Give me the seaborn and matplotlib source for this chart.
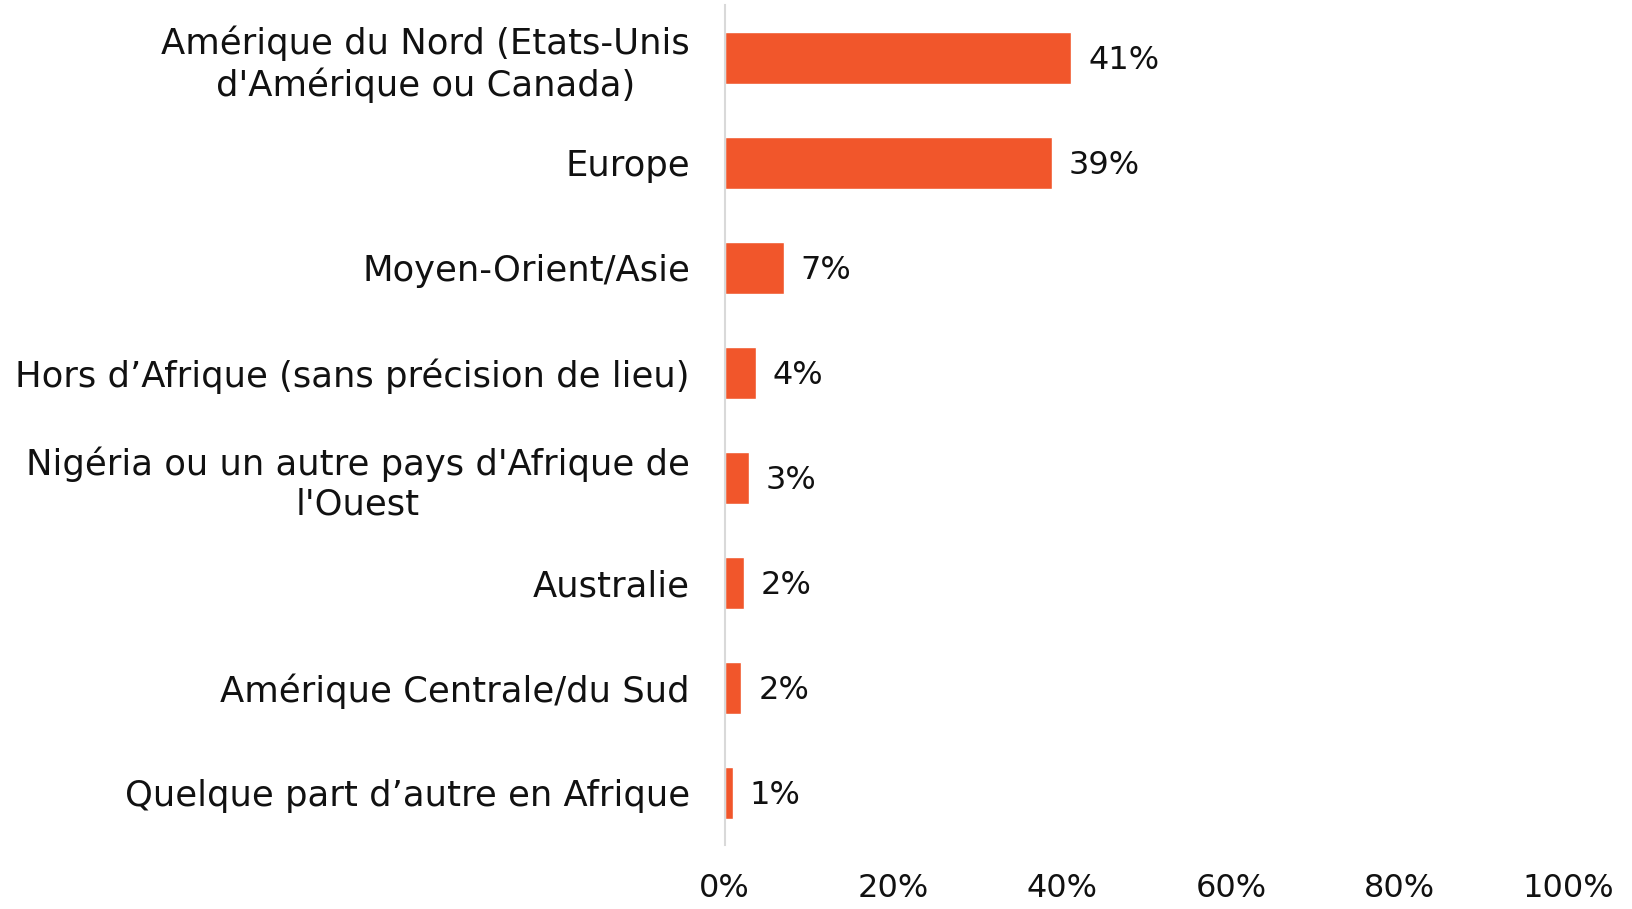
import matplotlib
matplotlib.use("Agg")
import matplotlib.pyplot as plt
import seaborn as sns
import pandas as pd

# valeurs
regions = [
    "Amérique du Nord (Etats-Unis\nd'Amérique ou Canada)",
    "Europe",
    "Moyen-Orient/Asie",
    "Hors d’Afrique (sans précision de lieu)",
    "Nigéria ou un autre pays d'Afrique de\nl'Ouest",
    "Australie",
    "Amérique Centrale/du Sud",
    "Quelque part d’autre en Afrique",
]
pourcentages = [41.1, 38.8, 7.0, 3.7, 2.9, 2.3, 2.0, 1.0]
xticks = [0, 20, 40, 60, 80, 100]

df = pd.DataFrame({"region": regions, "pct": pourcentages})

sns.set_style("white")
plt.rcParams['font.family'] = ['DejaVu Sans']

fig = plt.figure(figsize=(16.32, 9.09), dpi=100)
ax = fig.add_axes([0.444, 0.070, 0.517, 0.924])

sns.barplot(data=df, x="pct", y="region", orient="h", color="#F1562B",
            saturation=1, width=0.5, ax=ax)

labels = [f"{round(v):.0f}%" for v in pourcentages]
txts = ax.bar_label(ax.containers[0], labels=labels, padding=12, fontsize=23, color="#111111")
for t in txts:
    t.set_va("center")
    t.set_y(-2)

ax.set_xlim(0, 100)
ax.set_ylim(7.5, -0.5)
ax.set_xticks(xticks)
ax.set_xticklabels([f"{t}%" for t in xticks], fontsize=23, color="#111111")
ax.tick_params(axis="x", length=0, pad=20)
ax.tick_params(axis="y", length=0, pad=25)
for lab in ax.get_yticklabels():
    lab.set_fontsize(25.5)
    lab.set_color("#111111")
    lab.set_multialignment("center")

ax.set_xlabel("")
ax.set_ylabel("")
for s in ["top", "right", "bottom"]:
    ax.spines[s].set_visible(False)
ax.spines["left"].set_color("#d9d9d9")
ax.spines["left"].set_linewidth(1.5)

fig.savefig("out.png", dpi=100)
